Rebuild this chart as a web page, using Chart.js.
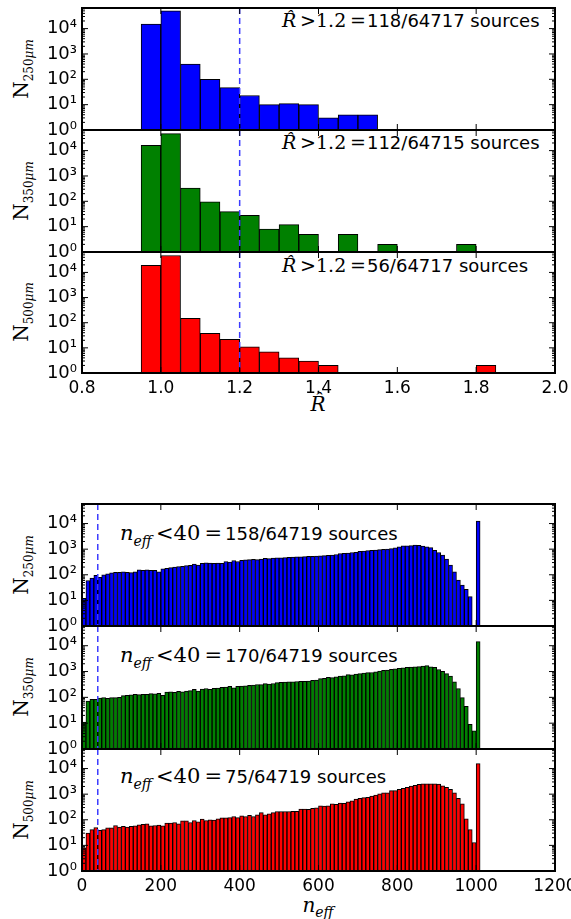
<!DOCTYPE html>
<html>
<head>
<meta charset="utf-8">
<script src="https://cdn.jsdelivr.net/npm/chart.js@4.4.0/dist/chart.umd.min.js"></script>
<style>
body{margin:0;background:#fff;width:571px;height:919px;position:relative;overflow:hidden;font-family:"DejaVu Sans",sans-serif;color:#000}
canvas{position:absolute;left:0}
.ann{position:absolute;white-space:nowrap;font-size:18px;transform:translateY(-50%)}
.m{font-family:"DejaVu Serif",serif;font-size:19px;margin-right:1px}
.mn{font-size:21px;margin-right:3px}
.yt{position:absolute;white-space:nowrap;font-family:"DejaVu Serif",serif;font-size:20px;transform:translate(-50%,-50%) rotate(-90deg)}
.yt sub{font-size:12px}
.xt{position:absolute;white-space:nowrap;font-family:"DejaVu Serif",serif;font-size:20px;transform:translate(-50%,-50%)}
.xt sub,.ann sub{font-size:14px}
</style>
</head>
<body>

<div class="ann" style="left:282px;top:20px"><span class="m"><i>R̂</i>&thinsp;&gt;1.2&thinsp;=</span>118/64717 sources</div>
<div class="ann" style="left:282px;top:142px"><span class="m"><i>R̂</i>&thinsp;&gt;1.2&thinsp;=</span>112/64715 sources</div>
<div class="ann" style="left:282px;top:265px"><span class="m"><i>R̂</i>&thinsp;&gt;1.2&thinsp;=</span>56/64717 sources</div>
<div class="ann" style="left:120px;top:535px"><span class="m mn"><i>n<sub>eff</sub></i>&thinsp;&lt;40&thinsp;=</span>158/64719 sources</div>
<div class="ann" style="left:120px;top:657px"><span class="m mn"><i>n<sub>eff</sub></i>&thinsp;&lt;40&thinsp;=</span>170/64719 sources</div>
<div class="ann" style="left:120px;top:778px"><span class="m mn"><i>n<sub>eff</sub></i>&thinsp;&lt;40&thinsp;=</span>75/64719 sources</div>

<div class="yt" style="left:22px;top:69px">N<sub>250<i>μm</i></sub></div>
<div class="yt" style="left:22px;top:191px">N<sub>350<i>μm</i></sub></div>
<div class="yt" style="left:22px;top:312px">N<sub>500<i>μm</i></sub></div>
<div class="yt" style="left:22px;top:565px">N<sub>250<i>μm</i></sub></div>
<div class="yt" style="left:22px;top:687px">N<sub>350<i>μm</i></sub></div>
<div class="yt" style="left:22px;top:810px">N<sub>500<i>μm</i></sub></div>

<div class="xt" style="left:318px;top:404px"><i>R̂</i></div>
<div class="xt" style="left:318px;top:906px"><i>n<sub>eff</sub></i></div>

<script>
// R-hat histograms (bin left edges, width 0.05)
const rhatEdges = [0.95,1.00,1.05,1.10,1.15,1.20,1.25,1.30,1.35,1.40,1.45,1.50,1.55,1.60,1.65,1.70,1.75,1.80];
const rhat250 = [15000,50000,400,100,47,23,10,11,10,3,4,4,0,0,0,0,0,0];
const rhat350 = [16000,47000,330,95,39,28,8,12,5,0,5,0,2,0,0,0,2,0];
const rhat500 = [19000,47000,150,38,22,11,7,4,3,2,0,0,0,0,0,0,0,2];
const rhatTicks = [0.8,1.0,1.2,1.4,1.6,1.8,2.0];

// n_eff histograms (bin left edges, width 10)
const neffEdges = [0,10,20,30,40,50,60,70,80,90,
100,110,120,130,140,150,160,170,180,190,
200,210,220,230,240,250,260,270,280,290,
300,310,320,330,340,350,360,370,380,390,
400,410,420,430,440,450,460,470,480,490,
500,510,520,530,540,550,560,570,580,590,
600,610,620,630,640,650,660,670,680,690,
700,710,720,730,740,750,760,770,780,790,
800,810,820,830,840,850,860,870,880,890,
900,910,920,930,940,950,960,970,980,990,
1000];
const neff250 = [12,60,75,95,80,100,110,120,125,125,
130,125,122,130,155,150,155,150,150,130,
170,180,190,200,210,215,230,235,260,240,
280,290,285,280,285,280,330,310,360,330,
370,385,390,400,390,410,440,430,450,460,
455,470,480,490,500,500,510,520,520,540,
550,560,575,590,620,675,680,700,740,760,
830,850,880,910,920,960,980,1000,1050,1120,
1230,1350,1350,1380,1450,1400,1320,1230,1150,910,
740,585,410,240,130,62,40,27,14,0,
12600];
const neff350 = [11,72,84,84,94,98,92,98,98,100,
116,120,126,130,128,132,130,140,138,142,
120,160,165,158,170,165,175,182,205,175,
210,220,205,225,230,245,250,270,235,265,
275,280,295,300,315,310,340,330,345,370,
380,390,400,395,410,420,415,430,460,470,
530,540,590,580,620,660,680,760,750,800,
830,880,910,920,970,1050,1120,1150,1230,1280,
1320,1390,1440,1480,1520,1560,1620,1700,1520,1440,
1200,1020,830,660,400,220,97,45,9,5,
14500];
const neff500 = [8,30,41,50,39,41,48,48,60,52,
55,52,55,58,64,67,70,58,60,62,
58,74,74,78,70,91,91,78,94,84,
106,94,100,97,110,120,120,122,134,122,
141,134,150,134,156,190,156,170,190,210,
210,210,210,215,215,260,260,255,280,290,
350,340,350,415,400,445,440,500,550,640,
690,730,750,850,930,1020,1140,1140,1370,1370,
1550,1700,1840,2080,2200,2400,2560,2560,2560,2560,
2480,2130,1840,1550,1140,690,415,110,41,13,
15500];
const neffTicks = [0,200,400,600,800,1000,1200];

const yTicks = [1,10,100,1000,10000];
const sup = ['⁰','¹','²','³','⁴','⁵'];

Chart.defaults.font.family = 'DejaVu Sans';
Chart.defaults.color = '#000';

// matplotlib-like frame: box, inward ticks on all sides, dashed cut line
const frame = {
  id: 'frame',
  afterDraw(chart, args, o) {
    const {ctx, chartArea: a, scales: {x, y}} = chart;
    const line = (x1, y1, x2, y2) => { ctx.beginPath(); ctx.moveTo(x1, y1); ctx.lineTo(x2, y2); ctx.stroke(); };
    ctx.save();
    ctx.strokeStyle = '#3c3cff';
    ctx.lineWidth = 1.5;
    ctx.setLineDash([6, 4]);
    const vx = x.getPixelForValue(o.vline);
    line(vx, a.top, vx, a.bottom);
    ctx.setLineDash([]);
    ctx.strokeStyle = '#000';
    ctx.lineWidth = 1;
    for (let d = 0; d <= 5; d++) {
      for (let m = 1; m < 10; m++) {
        const v = m * Math.pow(10, d);
        if (v > y.max) break;
        const py = y.getPixelForValue(v);
        const len = m === 1 ? 6 : 3;
        line(a.left, py, a.left + len, py);
        line(a.right, py, a.right - len, py);
      }
    }
    o.xticks.forEach(t => {
      const px = x.getPixelForValue(t);
      line(px, a.top, px, a.top + 6);
      line(px, a.bottom, px, a.bottom - 6);
    });
    ctx.lineWidth = 2;
    ctx.strokeRect(a.left, a.top, a.right - a.left, a.bottom - a.top);
    ctx.restore();
  }
};

function panel(p) {
  const pad = 12, xh = 30;
  const c = document.createElement('canvas');
  c.width = 571;
  c.height = p.bottom - p.top + pad + (p.showX ? xh : pad);
  c.style.top = (p.top - pad) + 'px';
  document.body.appendChild(c);
  const step = p.edges[1] - p.edges[0];
  new Chart(c, {
    type: 'bar',
    data: {
      datasets: [{
        data: p.edges.map((e, i) => ({x: e + step / 2, y: p.values[i] > 0 ? p.values[i] : null})),
        backgroundColor: p.color,
        borderColor: '#000',
        borderWidth: 1,
        borderSkipped: false,
        barPercentage: 1,
        categoryPercentage: 1
      }]
    },
    options: {
      responsive: false,
      animation: false,
      devicePixelRatio: 1,
      events: [],
      layout: {padding: {top: pad, bottom: p.showX ? 0 : pad, left: 0, right: 16}},
      plugins: {legend: {display: false}, tooltip: {enabled: false}, frame: {vline: p.vline, xticks: p.xticks}},
      scales: {
        x: {
          type: 'linear', min: p.xticks[0], max: p.xticks[p.xticks.length - 1], offset: false,
          display: p.showX,
          afterBuildTicks: s => { s.ticks = p.xticks.map(v => ({value: v})); },
          ticks: {callback: p.fmt, font: {size: 17}, padding: 5, maxRotation: 0, autoSkip: false},
          grid: {display: false, drawTicks: false},
          border: {display: false},
          afterFit: s => { s.height = p.showX ? xh : 0; s.paddingLeft = 0; s.paddingRight = 0; }
        },
        y: {
          type: 'logarithmic', min: 1, max: p.ymax,
          afterBuildTicks: s => { s.ticks = yTicks.map(v => ({value: v})); },
          ticks: {callback: v => '10' + sup[Math.round(Math.log10(v))], font: {size: 18}, padding: 5, autoSkip: false},
          grid: {display: false, drawTicks: false},
          border: {display: false},
          afterFit: s => { s.width = 82; s.paddingTop = 0; s.paddingBottom = 0; }
        }
      }
    },
    plugins: [frame]
  });
}

const fmtR = v => v.toFixed(1);
const fmtN = v => String(v);

panel({top: 8, bottom: 130, edges: rhatEdges, values: rhat250, color: '#0000ff', xticks: rhatTicks, vline: 1.2, ymax: 65000, showX: false, fmt: fmtR});
panel({top: 130, bottom: 252, edges: rhatEdges, values: rhat350, color: '#008000', xticks: rhatTicks, vline: 1.2, ymax: 65000, showX: false, fmt: fmtR});
panel({top: 252, bottom: 373, edges: rhatEdges, values: rhat500, color: '#ff0000', xticks: rhatTicks, vline: 1.2, ymax: 65000, showX: true, fmt: fmtR});

panel({top: 504, bottom: 626, edges: neffEdges, values: neff250, color: '#0000ff', xticks: neffTicks, vline: 40, ymax: 58000, showX: false, fmt: fmtN});
panel({top: 626, bottom: 749, edges: neffEdges, values: neff350, color: '#008000', xticks: neffTicks, vline: 40, ymax: 58000, showX: false, fmt: fmtN});
panel({top: 749, bottom: 871, edges: neffEdges, values: neff500, color: '#ff0000', xticks: neffTicks, vline: 40, ymax: 58000, showX: true, fmt: fmtN});
</script>
</body>
</html>
